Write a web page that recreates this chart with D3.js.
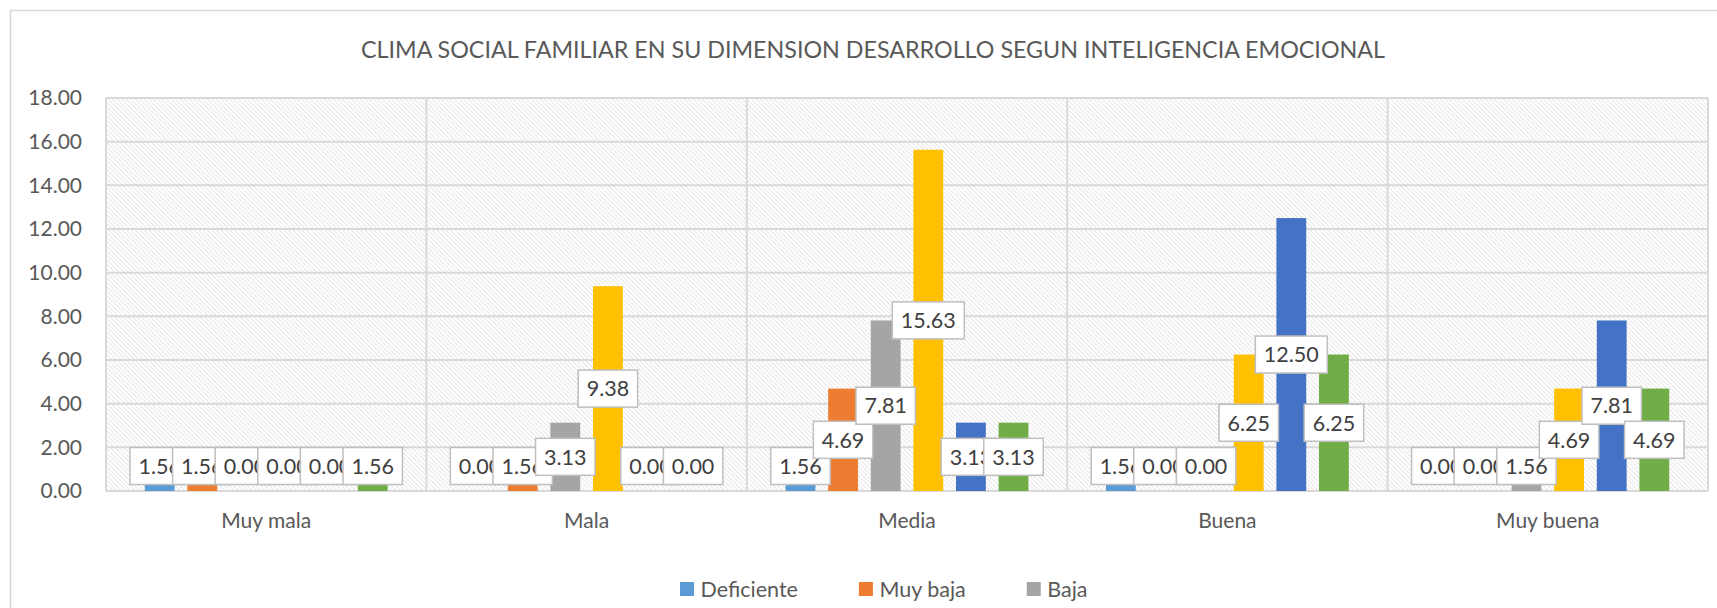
<!DOCTYPE html>
<html>
<head>
<meta charset="utf-8">
<script src="https://cdn.jsdelivr.net/npm/d3@7"></script>
<style>
  html, body { margin: 0; padding: 0; background: #ffffff; }
  svg { display: block; font-family: Lato, "Open Sans", sans-serif; }
</style>
</head>
<body>
<svg id="chart" width="1717" height="608"></svg>
<script>
// ---------- data ----------
const title = "CLIMA SOCIAL FAMILIAR EN SU DIMENSION DESARROLLO SEGUN INTELIGENCIA EMOCIONAL";
const categories = ["Muy mala", "Mala", "Media", "Buena", "Muy buena"];
const seriesNames = ["Deficiente", "Muy baja", "Baja", "Promedio", "Alta", "Muy alta"];
const legendShown = ["Deficiente", "Muy baja", "Baja"];
const deficiente = [1.56, 0.00, 1.56, 1.56, 0.00];
const muyBaja    = [1.56, 1.56, 4.69, 0.00, 0.00];
const baja       = [0.00, 3.13, 7.81, 0.00, 1.56];
const promedio   = [0.00, 9.38, 15.63, 6.25, 4.69];
const alta       = [0.00, 0.00, 3.13, 12.50, 7.81];
const muyAlta    = [1.56, 0.00, 3.13, 6.25, 4.69];
const yTicks = [0, 2, 4, 6, 8, 10, 12, 14, 16, 18];
const seriesColors = ["#5B9BD5", "#ED7D31", "#A5A5A5", "#FFC000", "#4472C4", "#70AD47"];

const seriesValues = [deficiente, muyBaja, baja, promedio, alta, muyAlta];
const series = seriesNames.map((name, i) => ({
  name, color: seriesColors[i],
  values: categories.map((c, j) => ({ cat: c, name, value: seriesValues[i][j] }))
}));

// ---------- layout ----------
const svg = d3.select("#chart");
const plot = { left: 106, right: 1708, top: 98, bottom: 491 };
const fmt = d3.format(".2f");

const x0 = d3.scaleBand().domain(categories).range([plot.left, plot.right]).padding(0);
const x1 = d3.scaleBand().domain(seriesNames).range([0, x0.bandwidth()])
  .paddingInner(0.3).paddingOuter(0.91);
const y = d3.scaleLinear().domain([0, 18]).range([plot.bottom, plot.top]);

// chart outer border
svg.append("rect").attr("x", 10.5).attr("y", 10.5).attr("width", 1740).attr("height", 640)
  .attr("fill", "#fff").attr("stroke", "#d9d9d9").attr("stroke-width", 1.5);

// hatch pattern
const defs = svg.append("defs");
const pat = defs.append("pattern").attr("id", "hatch").attr("patternUnits", "userSpaceOnUse")
  .attr("width", 4.5).attr("height", 4.5);
pat.append("rect").attr("width", 4.5).attr("height", 4.5).attr("fill", "#ffffff");
pat.append("path").attr("d", "M-1,-1 L5.5,5.5 M-1,3.5 L1,5.5 M3.5,-1 L5.5,1")
  .attr("stroke", "#d6d6d6").attr("stroke-width", 0.85);

svg.append("rect").attr("x", plot.left).attr("y", plot.top)
  .attr("width", plot.right - plot.left).attr("height", plot.bottom - plot.top)
  .attr("fill", "url(#hatch)");

// title
svg.append("text").attr("x", 873).attr("y", 58).attr("text-anchor", "middle")
  .attr("font-size", 24).attr("fill", "#595959")
  .attr("textLength", 1024).attr("lengthAdjust", "spacingAndGlyphs")
  .text(title);

// horizontal gridlines
svg.append("g").selectAll("line").data(yTicks).join("line")
  .attr("x1", plot.left).attr("x2", plot.right)
  .attr("y1", d => y(d)).attr("y2", d => y(d))
  .attr("stroke", "#d9d9d9").attr("stroke-width", 2);

// vertical category separators
const seps = categories.map(c => x0(c)).concat([x0(categories[categories.length - 1]) + x0.bandwidth()]);
svg.append("g").selectAll("line").data(seps).join("line")
  .attr("x1", d => d).attr("x2", d => d)
  .attr("y1", plot.top).attr("y2", plot.bottom)
  .attr("stroke", "#d9d9d9").attr("stroke-width", 2);

// y axis labels (no line)
const yAxis = d3.axisLeft(y).tickValues(yTicks).tickFormat(fmt).tickSize(0).tickPadding(0);
const ya = svg.append("g").attr("transform", `translate(82,0)`).call(yAxis);
ya.select(".domain").remove();
ya.selectAll("text").attr("font-size", 21).attr("fill", "#595959")
  .attr("font-family", "Lato, 'Open Sans', sans-serif");

// x axis labels
const xAxis = d3.axisBottom(x0).tickSize(0).tickPadding(0);
const xa = svg.append("g").attr("transform", `translate(0,${plot.bottom})`).call(xAxis);
xa.select(".domain").remove();
xa.selectAll("text").attr("font-size", 21).attr("fill", "#595959")
  .attr("font-family", "Lato, 'Open Sans', sans-serif")
  .attr("y", 30).attr("dy", "0.35em");

// bars
const gBars = svg.append("g");
series.forEach(s => {
  gBars.append("g").selectAll("rect").data(s.values).join("rect")
    .attr("x", d => x0(d.cat) + x1(d.name))
    .attr("width", x1.bandwidth())
    .attr("y", d => y(d.value))
    .attr("height", d => y(0) - y(d.value))
    .attr("fill", s.color);
});

// data labels (drawn series by series, later ones on top)
const gLabels = svg.append("g");
series.forEach(s => {
  s.values.forEach(d => {
    const cx = x0(d.cat) + x1(d.name) + x1.bandwidth() / 2;
    const cy = Math.min(y(d.value / 2), y(0) - 25);
    const g = gLabels.append("g");
    const t = g.append("text").attr("x", cx).attr("y", cy).attr("dy", "0.36em")
      .attr("text-anchor", "middle").attr("font-size", 21.5).attr("fill", "#404040")
      .text(fmt(d.value));
    const w = t.node().getComputedTextLength() + 17;
    g.insert("rect", "text").attr("x", cx - w / 2).attr("y", cy - 18.5)
      .attr("width", w).attr("height", 37)
      .attr("fill", "#ffffff").attr("stroke", "#bfbfbf").attr("stroke-width", 1.5);
  });
});

// legend
const gLeg = svg.append("g");
let lx = 680;
legendShown.forEach(name => {
  const i = seriesNames.indexOf(name);
  gLeg.append("rect").attr("x", lx).attr("y", 582).attr("width", 14).attr("height", 14)
    .attr("fill", seriesColors[i]);
  const t = gLeg.append("text").attr("x", lx + 20.5).attr("y", 589).attr("dy", "0.35em")
    .attr("font-size", 21.5).attr("fill", "#595959").text(name);
  lx += 20.5 + t.node().getComputedTextLength() + 61;
});
</script>
</body>
</html>
